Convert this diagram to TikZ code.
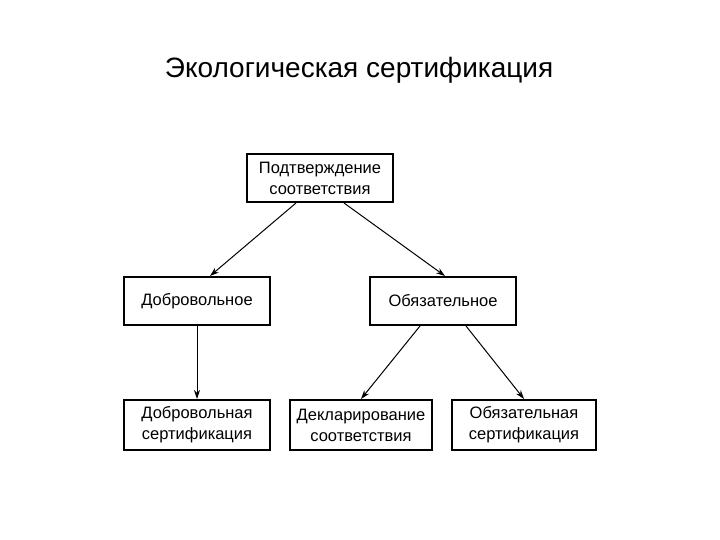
\documentclass[tikz,border=0pt]{standalone}
\usepackage{fontspec}
\setmainfont{Liberation Sans}
\usetikzlibrary{arrows.meta}
\tikzset{
every picture/.style={
line width=1pt
}}

\begin{document}
\begin{tikzpicture}[x=1pt, y=-1pt, >={Stealth[length=9pt,width=6pt]},
block/.style = {rectangle, draw=black, line width=2pt, align=center,
  minimum width=146pt, minimum height=48pt, inner sep=2pt,
  font=\fontsize{16.5}{21}\selectfont}]
\useasboundingbox (0,0) rectangle (720,540);

\node at (359,70) (t) {\fontsize{28}{32}\selectfont Экологическая сертификация};

\node [block] at (320,178) (top) {Подтверждение\\соответствия};
\node [block] at (197,301) (d) {Добровольное};
\node [block] at (443,301) (o) {Обязательное};
\node [block, minimum height=50pt] at (197,425) (dc) {Добровольная\\сертификация};
\node [block, minimum height=50pt, minimum width=142pt] at (361,425) (dk) {Декларирование\\соответствия};
\node [block, minimum height=50pt, minimum width=144pt] at (524,425) (oc) {Обязательная\\сертификация};

\draw [->] ([xshift=-24pt]top.south) -- ([xshift=13pt]d.north);
\draw [->] ([xshift=24pt]top.south) -- ([xshift=2pt]o.north);
\draw [->] (d) -- (dc);
\draw [->] ([xshift=-23pt]o.south) -- (dk.north);
\draw [->] ([xshift=23pt]o.south) -- (oc.north);

\end{tikzpicture}
\end{document}
